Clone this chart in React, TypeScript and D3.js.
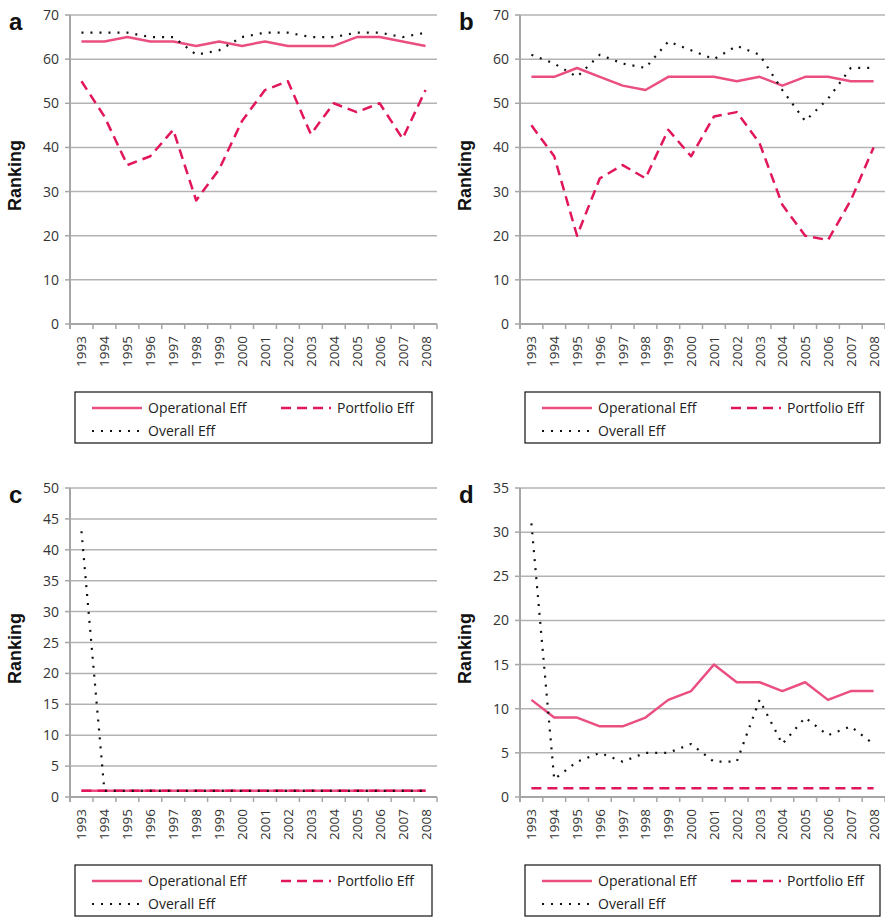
import React from 'react';
import * as d3 from 'd3';

const years = ['1993', '1994', '1995', '1996', '1997', '1998', '1999', '2000', '2001', '2002', '2003', '2004', '2005', '2006', '2007', '2008'];

const opA = [64, 64, 65, 64, 64, 63, 64, 63, 64, 63, 63, 63, 65, 65, 64, 63];
const portA = [55, 47, 36, 38, 44, 28, 35, 46, 53, 55, 43, 50, 48, 50, 42, 53];
const overA = [66, 66, 66, 65, 65, 61, 62, 65, 66, 66, 65, 65, 66, 66, 65, 66];

const opB = [56, 56, 58, 56, 54, 53, 56, 56, 56, 55, 56, 54, 56, 56, 55, 55];
const portB = [45, 38, 20, 33, 36, 33, 44, 38, 47, 48, 41, 27, 20, 19, 28, 40];
const overB = [61, 59, 56, 61, 59, 58, 64, 62, 60, 63, 61, 53, 46, 51, 58, 58];

const opC = [1, 1, 1, 1, 1, 1, 1, 1, 1, 1, 1, 1, 1, 1, 1, 1];
const portC = [1, 1, 1, 1, 1, 1, 1, 1, 1, 1, 1, 1, 1, 1, 1, 1];
const overC = [43, 1, 1, 1, 1, 1, 1, 1, 1, 1, 1, 1, 1, 1, 1, 1];

const opD = [11, 9, 9, 8, 8, 9, 11, 12, 15, 13, 13, 12, 13, 11, 12, 12];
const portD = [1, 1, 1, 1, 1, 1, 1, 1, 1, 1, 1, 1, 1, 1, 1, 1];
const overD = [31, 2, 4, 5, 4, 5, 5, 6, 4, 4, 11, 6, 9, 7, 8, 6];

const ticksAB = [0, 10, 20, 30, 40, 50, 60, 70];
const ticksC = [0, 5, 10, 15, 20, 25, 30, 35, 40, 45, 50];
const ticksD = [0, 5, 10, 15, 20, 25, 30, 35];

const OP_COLOR = '#EA4F80';
const PORT_COLOR = '#E2165B';
const font = '"Open Sans", "Liberation Sans", sans-serif';
const boldFont = "Arial, 'Liberation Sans', sans-serif";

const series = [
  { key: 'op', name: 'Operational Eff', color: OP_COLOR, dash: 'none', width: 2.5 },
  { key: 'port', name: 'Portfolio Eff', color: PORT_COLOR, dash: '10,6', width: 2.5 },
  { key: 'over', name: 'Overall Eff', color: '#111', dash: '2,7', width: 2.2 },
];

interface PanelProps {
  label: string;
  left: number;
  right: number;
  top: number;
  bottom: number;
  ticks: number[];
  op: number[];
  port: number[];
  over: number[];
}

const Panel: React.FC<PanelProps> = ({ label, left, right, top, bottom, ticks, op, port, over }) => {
  const x = d3.scaleBand().domain(years).range([left, right]);
  const y = d3.scaleLinear().domain([0, ticks[ticks.length - 1]]).range([bottom, top]);
  const cx = (i: number) => (x(years[i]) as number) + x.bandwidth() / 2;
  const line = d3.line<number>().x((_, i) => cx(i)).y(d => y(d));
  const data: Record<string, number[]> = { op, port, over };

  const boxL = left + 5;
  const boxR = right - 5;
  const boxT = bottom + 68;
  const boxB = boxT + 51;

  return (
    <g>
      <text x={left - 61} y={top + 15} fontFamily={boldFont} fontWeight="bold" fontSize={24} fill="#111">{label}</text>
      <text transform={`translate(${left - 49},${(top + bottom) / 2 + 6}) rotate(-90)`} textAnchor="middle"
        fontFamily={boldFont} fontWeight="bold" fontSize={18} fill="#111">Ranking</text>

      {ticks.map(t => (
        <g key={t}>
          {t > 0 && <line x1={left} x2={right} y1={y(t)} y2={y(t)} stroke="#b3b3b3" strokeWidth={1.5} />}
          <line x1={left - 5} x2={left} y1={y(t)} y2={y(t)} stroke="#a6a6a6" strokeWidth={1.5} />
          <text x={left - 11} y={y(t) + 5} textAnchor="end" fontFamily={font} fontSize={14} fill="#333">{t}</text>
        </g>
      ))}
      <line x1={left} x2={left} y1={top} y2={bottom + 5} stroke="#a6a6a6" strokeWidth={2} />
      <line x1={left} x2={right} y1={bottom} y2={bottom} stroke="#a6a6a6" strokeWidth={2} />
      {years.map((yr, i) => (
        <g key={yr}>
          <line x1={(x(yr) as number) + x.bandwidth()} x2={(x(yr) as number) + x.bandwidth()} y1={bottom} y2={bottom + 5} stroke="#a6a6a6" strokeWidth={1.5} />
          <text transform={`translate(${cx(i) + 5},${bottom + 12}) rotate(-90)`} textAnchor="end" fontFamily={font} fontSize={13.5} fill="#333">{yr}</text>
        </g>
      ))}

      {series.map(s => (
        <path key={s.key} d={line(data[s.key]) || ''} fill="none" stroke={s.color} strokeWidth={s.width}
          strokeDasharray={s.dash} strokeLinejoin="round" />
      ))}

      <rect x={boxL} y={boxT} width={boxR - boxL} height={boxB - boxT} fill="none" stroke="#111" strokeWidth={1.2} />
      {series.map((s, i) => {
        const col = i === 1 ? 1 : 0;
        const row = i === 2 ? 1 : 0;
        const sx = boxL + 17 + col * 189;
        const sy = boxT + 16 + row * 23;
        return (
          <g key={s.key}>
            <line x1={sx} x2={sx + 50} y1={sy} y2={sy} stroke={s.color} strokeWidth={s.width} strokeDasharray={s.dash} />
            <text x={sx + 56} y={sy + 5} fontFamily={font} fontSize={14} fill="#222">{s.name}</text>
          </g>
        );
      })}
    </g>
  );
};

export default function App() {
  return (
    <svg width={885} height={919} style={{ position: 'absolute', left: 0, top: 0, background: '#fff' }}>
      <Panel label="a" left={70} right={437} top={15} bottom={324} ticks={ticksAB} op={opA} port={portA} over={overA} />
      <Panel label="b" left={520} right={885} top={15} bottom={324} ticks={ticksAB} op={opB} port={portB} over={overB} />
      <Panel label="c" left={70} right={437} top={488} bottom={797} ticks={ticksC} op={opC} port={portC} over={overC} />
      <Panel label="d" left={520} right={885} top={488} bottom={797} ticks={ticksD} op={opD} port={portD} over={overD} />
    </svg>
  );
}
